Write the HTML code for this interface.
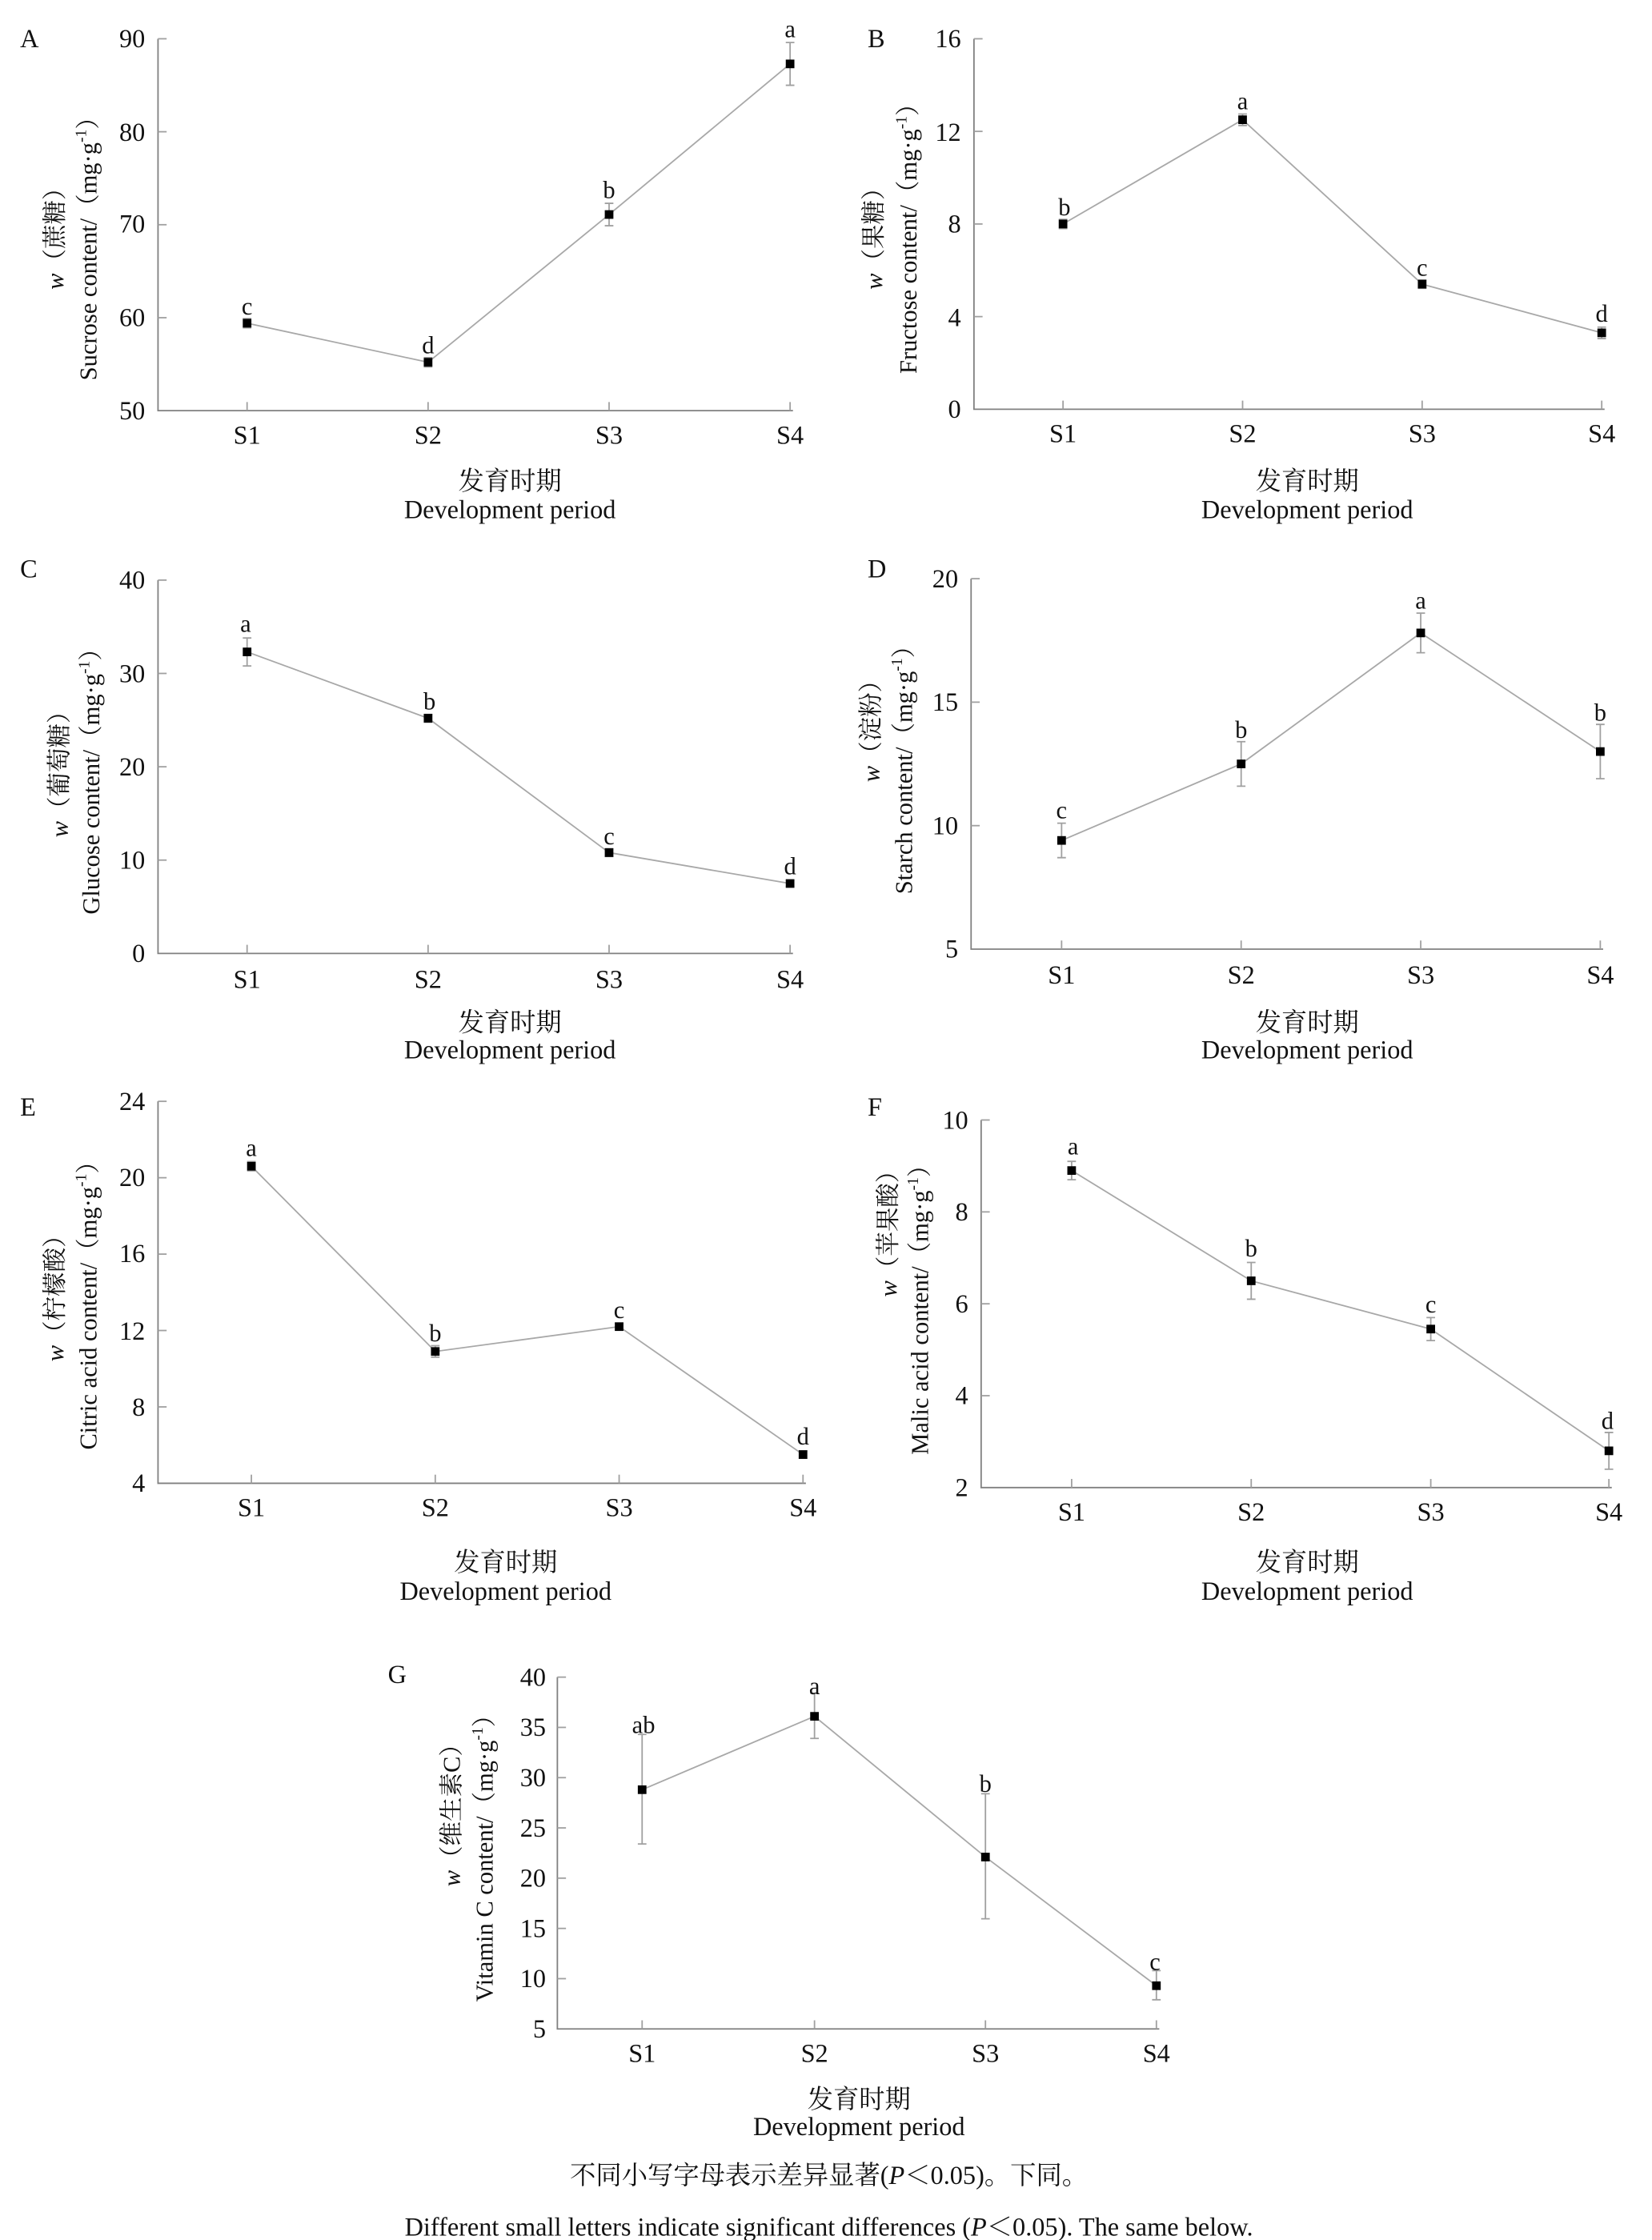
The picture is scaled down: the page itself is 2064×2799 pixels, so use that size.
<!DOCTYPE html>
<html><head><meta charset="utf-8"><style>
html,body{margin:0;padding:0;background:#fff;}
svg{display:block;}
text{font-family:"Liberation Serif","Noto Serif CJK SC","Noto Sans CJK SC",serif;fill:#111;}
.t{font-size:18px;}
.l{font-size:17px;}
.c{font-size:18px;}
.ax{stroke:#808080;stroke-width:1;fill:none;}
.tk{stroke:#a0a0a0;stroke-width:1;}
.ln{stroke:#a8a8a8;stroke-width:1;fill:none;}
.eb{stroke:#a0a0a0;stroke-width:1;fill:none;}
.yl{font-size:17px;}
</style></head><body>
<svg width="2064" height="2799" viewBox="0 0 1150 1560" preserveAspectRatio="none" xmlns="http://www.w3.org/2000/svg">

<!-- ========== A ========== -->
<text x="14" y="33" class="t">A</text>
<g>
<path class="ax" d="M110,27 V286 H552"/>
<g class="tk"><line x1="110" y1="27" x2="116" y2="27"/><line x1="110" y1="91.75" x2="116" y2="91.75"/><line x1="110" y1="156.5" x2="116" y2="156.5"/><line x1="110" y1="221.25" x2="116" y2="221.25"/>
<line x1="172" y1="286" x2="172" y2="280"/><line x1="298" y1="286" x2="298" y2="280"/><line x1="424" y1="286" x2="424" y2="280"/><line x1="550" y1="286" x2="550" y2="280"/></g>
<g class="t" text-anchor="end"><text x="101" y="33">90</text><text x="101" y="98">80</text><text x="101" y="162">70</text><text x="101" y="227">60</text><text x="101" y="292">50</text></g>
<g class="t" text-anchor="middle"><text x="172" y="309">S1</text><text x="298" y="309">S2</text><text x="424" y="309">S3</text><text x="550" y="309">S4</text>
<text x="355" y="341">发育时期</text><text x="355" y="361">Development period</text></g>
<polyline class="ln" points="172,225.1 298,252.3 424,149.4 550,44.5"/>
<g class="eb"><path d="M172,221.9V228.3M169,221.9h6M169,228.3h6"/><path d="M298,249.1V255.5M295,249.1h6M295,255.5h6"/><path d="M424,141.6V157.2M421,141.6h6M421,157.2h6"/><path d="M550,29.6V59.4M547,29.6h6M547,59.4h6"/></g>
<g fill="#000"><rect x="169" y="222.1" width="6" height="6"/><rect x="295" y="249.3" width="6" height="6"/><rect x="421" y="146.4" width="6" height="6"/><rect x="547" y="41.5" width="6" height="6"/></g>
<g class="l" text-anchor="middle"><text x="172" y="219">c</text><text x="298" y="246">d</text><text x="424" y="138">b</text><text x="550" y="26">a</text></g>
<text class="yl" text-anchor="middle" transform="translate(44,162) rotate(-90)"><tspan font-style="italic">w</tspan>（蔗糖）</text>
<text class="yl" text-anchor="middle" transform="translate(67,169) rotate(-90)">Sucrose content/（mg·g<tspan font-size="11" dy="-7">-1</tspan><tspan dy="7">）</tspan></text>
</g>

<!-- ========== B ========== -->
<text x="604" y="33" class="t">B</text>
<g>
<path class="ax" d="M678,27 V285 H1117"/>
<g class="tk"><line x1="678" y1="27" x2="684" y2="27"/><line x1="678" y1="91.5" x2="684" y2="91.5"/><line x1="678" y1="156" x2="684" y2="156"/><line x1="678" y1="220.5" x2="684" y2="220.5"/>
<line x1="740" y1="285" x2="740" y2="279"/><line x1="865" y1="285" x2="865" y2="279"/><line x1="990" y1="285" x2="990" y2="279"/><line x1="1115" y1="285" x2="1115" y2="279"/></g>
<g class="t" text-anchor="end"><text x="669" y="33">16</text><text x="669" y="98">12</text><text x="669" y="162">8</text><text x="669" y="227">4</text><text x="669" y="291">0</text></g>
<g class="t" text-anchor="middle"><text x="740" y="308">S1</text><text x="865" y="308">S2</text><text x="990" y="308">S3</text><text x="1115" y="308">S4</text>
<text x="910" y="341">发育时期</text><text x="910" y="361">Development period</text></g>
<polyline class="ln" points="740,156 865,83.4 990,197.9 1115,231.8"/>
<g class="eb"><path d="M740,152.8V159.2M737,152.8h6M737,159.2h6"/><path d="M865,79.4V87.4M862,79.4h6M862,87.4h6"/><path d="M990,195V200.8M987,195h6M987,200.8h6"/><path d="M1115,227.8V235.8M1112,227.8h6M1112,235.8h6"/></g>
<g fill="#000"><rect x="737" y="153" width="6" height="6"/><rect x="862" y="80.4" width="6" height="6"/><rect x="987" y="194.9" width="6" height="6"/><rect x="1112" y="228.8" width="6" height="6"/></g>
<g class="l" text-anchor="middle"><text x="741" y="150">b</text><text x="865" y="76">a</text><text x="990" y="192">c</text><text x="1115" y="224">d</text></g>
<text class="yl" text-anchor="middle" transform="translate(614,162) rotate(-90)"><tspan font-style="italic">w</tspan>（果糖）</text>
<text class="yl" text-anchor="middle" transform="translate(638,162) rotate(-90)">Fructose content/（mg·g<tspan font-size="11" dy="-7">-1</tspan><tspan dy="7">）</tspan></text>
</g>

<!-- ========== C ========== -->
<text x="14" y="402" class="t">C</text>
<g>
<path class="ax" d="M110,404 V664 H552"/>
<g class="tk"><line x1="110" y1="404" x2="116" y2="404"/><line x1="110" y1="469" x2="116" y2="469"/><line x1="110" y1="534" x2="116" y2="534"/><line x1="110" y1="599" x2="116" y2="599"/>
<line x1="172" y1="664" x2="172" y2="658"/><line x1="298" y1="664" x2="298" y2="658"/><line x1="424" y1="664" x2="424" y2="658"/><line x1="550" y1="664" x2="550" y2="658"/></g>
<g class="t" text-anchor="end"><text x="101" y="410">40</text><text x="101" y="475">30</text><text x="101" y="540">20</text><text x="101" y="605">10</text><text x="101" y="670">0</text></g>
<g class="t" text-anchor="middle"><text x="172" y="688">S1</text><text x="298" y="688">S2</text><text x="424" y="688">S3</text><text x="550" y="688">S4</text>
<text x="355" y="718">发育时期</text><text x="355" y="737">Development period</text></g>
<polyline class="ln" points="172,454 298,500.2 424,593.8 550,615.3"/>
<g class="eb"><path d="M172,444.3V463.8M169,444.3h6M169,463.8h6"/><path d="M298,497.5V503M295,497.5h6M295,503h6"/><path d="M424,591V596.5M421,591h6M421,596.5h6"/><path d="M550,613V617.5M547,613h6M547,617.5h6"/></g>
<g fill="#000"><rect x="169" y="451" width="6" height="6"/><rect x="295" y="497.2" width="6" height="6"/><rect x="421" y="590.8" width="6" height="6"/><rect x="547" y="612.3" width="6" height="6"/></g>
<g class="l" text-anchor="middle"><text x="171" y="440">a</text><text x="299" y="494">b</text><text x="424" y="588">c</text><text x="550" y="609">d</text></g>
<text class="yl" text-anchor="middle" transform="translate(47,535) rotate(-90)"><tspan font-style="italic">w</tspan>（葡萄糖）</text>
<text class="yl" text-anchor="middle" transform="translate(69,540) rotate(-90)">Glucose content/（mg·g<tspan font-size="11" dy="-7">-1</tspan><tspan dy="7">）</tspan></text>
</g>

<!-- ========== D ========== -->
<text x="604" y="402" class="t">D</text>
<g>
<path class="ax" d="M676,403 V661 H1116"/>
<g class="tk"><line x1="676" y1="403" x2="682" y2="403"/><line x1="676" y1="489" x2="682" y2="489"/><line x1="676" y1="575" x2="682" y2="575"/>
<line x1="739" y1="661" x2="739" y2="655"/><line x1="864" y1="661" x2="864" y2="655"/><line x1="989" y1="661" x2="989" y2="655"/><line x1="1114" y1="661" x2="1114" y2="655"/></g>
<g class="t" text-anchor="end"><text x="667" y="409">20</text><text x="667" y="495">15</text><text x="667" y="581">10</text><text x="667" y="667">5</text></g>
<g class="t" text-anchor="middle"><text x="739" y="685">S1</text><text x="864" y="685">S2</text><text x="989" y="685">S3</text><text x="1114" y="685">S4</text>
<text x="910" y="718">发育时期</text><text x="910" y="737">Development period</text></g>
<polyline class="ln" points="739,585.3 864,532 989,440.8 1114,523.4"/>
<g class="eb"><path d="M739,573.3V597.3M736,573.3h6M736,597.3h6"/><path d="M864,516.5V547.5M861,516.5h6M861,547.5h6"/><path d="M989,427V454.6M986,427h6M986,454.6h6"/><path d="M1114,504.5V542.3M1111,504.5h6M1111,542.3h6"/></g>
<g fill="#000"><rect x="736" y="582.3" width="6" height="6"/><rect x="861" y="529" width="6" height="6"/><rect x="986" y="437.8" width="6" height="6"/><rect x="1111" y="520.4" width="6" height="6"/></g>
<g class="l" text-anchor="middle"><text x="739" y="570">c</text><text x="864" y="514">b</text><text x="989" y="424">a</text><text x="1114" y="502">b</text></g>
<text class="yl" text-anchor="middle" transform="translate(612,505) rotate(-90)"><tspan font-style="italic">w</tspan>（淀粉）</text>
<text class="yl" text-anchor="middle" transform="translate(635,532) rotate(-90)">Starch content/（mg·g<tspan font-size="11" dy="-7">-1</tspan><tspan dy="7">）</tspan></text>
</g>

<!-- ========== E ========== -->
<text x="14" y="777" class="t">E</text>
<g>
<path class="ax" d="M110,767 V1033 H561"/>
<g class="tk"><line x1="110" y1="767" x2="116" y2="767"/><line x1="110" y1="820.2" x2="116" y2="820.2"/><line x1="110" y1="873.4" x2="116" y2="873.4"/><line x1="110" y1="926.6" x2="116" y2="926.6"/><line x1="110" y1="979.8" x2="116" y2="979.8"/>
<line x1="175" y1="1033" x2="175" y2="1027"/><line x1="303" y1="1033" x2="303" y2="1027"/><line x1="431" y1="1033" x2="431" y2="1027"/><line x1="559" y1="1033" x2="559" y2="1027"/></g>
<g class="t" text-anchor="end"><text x="101" y="773">24</text><text x="101" y="826">20</text><text x="101" y="879">16</text><text x="101" y="933">12</text><text x="101" y="986">8</text><text x="101" y="1039">4</text></g>
<g class="t" text-anchor="middle"><text x="175" y="1056">S1</text><text x="303" y="1056">S2</text><text x="431" y="1056">S3</text><text x="559" y="1056">S4</text>
<text x="352" y="1094">发育时期</text><text x="352" y="1114">Development period</text></g>
<polyline class="ln" points="175,812.2 303,941.2 431,923.9 559,1013"/>
<g class="eb"><path d="M175,809V815.4M172,809h6M172,815.4h6"/><path d="M303,937.2V945.2M300,937.2h6M300,945.2h6"/><path d="M431,921.5V926.3M428,921.5h6M428,926.3h6"/><path d="M559,1010.5V1015.5M556,1010.5h6M556,1015.5h6"/></g>
<g fill="#000"><rect x="172" y="809.2" width="6" height="6"/><rect x="300" y="938.2" width="6" height="6"/><rect x="428" y="920.9" width="6" height="6"/><rect x="556" y="1010" width="6" height="6"/></g>
<g class="l" text-anchor="middle"><text x="175" y="805">a</text><text x="303" y="934">b</text><text x="431" y="918">c</text><text x="559" y="1006">d</text></g>
<text class="yl" text-anchor="middle" transform="translate(44,900) rotate(-90)"><tspan font-style="italic">w</tspan>（柠檬酸）</text>
<text class="yl" text-anchor="middle" transform="translate(67,905) rotate(-90)">Citric acid content/（mg·g<tspan font-size="11" dy="-7">-1</tspan><tspan dy="7">）</tspan></text>
</g>

<!-- ========== F ========== -->
<text x="604" y="777" class="t">F</text>
<g>
<path class="ax" d="M683,780 V1036 H1122"/>
<g class="tk"><line x1="683" y1="780" x2="689" y2="780"/><line x1="683" y1="844" x2="689" y2="844"/><line x1="683" y1="908" x2="689" y2="908"/><line x1="683" y1="972" x2="689" y2="972"/>
<line x1="746" y1="1036" x2="746" y2="1030"/><line x1="871" y1="1036" x2="871" y2="1030"/><line x1="996" y1="1036" x2="996" y2="1030"/><line x1="1120" y1="1036" x2="1120" y2="1030"/></g>
<g class="t" text-anchor="end"><text x="674" y="786">10</text><text x="674" y="850">8</text><text x="674" y="914">6</text><text x="674" y="978">4</text><text x="674" y="1042">2</text></g>
<g class="t" text-anchor="middle"><text x="746" y="1059">S1</text><text x="871" y="1059">S2</text><text x="996" y="1059">S3</text><text x="1120" y="1059">S4</text>
<text x="910" y="1094">发育时期</text><text x="910" y="1114">Development period</text></g>
<polyline class="ln" points="746,815.2 871,892 996,925.6 1120,1010.4"/>
<g class="eb"><path d="M746,808.8V821.6M743,808.8h6M743,821.6h6"/><path d="M871,879.2V904.8M868,879.2h6M868,904.8h6"/><path d="M996,917.6V933.6M993,917.6h6M993,933.6h6"/><path d="M1120,997.6V1023.2M1117,997.6h6M1117,1023.2h6"/></g>
<g fill="#000"><rect x="743" y="812.2" width="6" height="6"/><rect x="868" y="889" width="6" height="6"/><rect x="993" y="922.6" width="6" height="6"/><rect x="1117" y="1007.4" width="6" height="6"/></g>
<g class="l" text-anchor="middle"><text x="747" y="804">a</text><text x="871" y="875">b</text><text x="996" y="914">c</text><text x="1119" y="995">d</text></g>
<text class="yl" text-anchor="middle" transform="translate(624,855) rotate(-90)"><tspan font-style="italic">w</tspan>（苹果酸）</text>
<text class="yl" text-anchor="middle" transform="translate(646,908) rotate(-90)">Malic acid content/（mg·g<tspan font-size="11" dy="-7">-1</tspan><tspan dy="7">）</tspan></text>
</g>

<!-- ========== G ========== -->
<text x="270" y="1172" class="t">G</text>
<g>
<path class="ax" d="M388,1168 V1413 H807"/>
<g class="tk"><line x1="388" y1="1168" x2="394" y2="1168"/><line x1="388" y1="1203" x2="394" y2="1203"/><line x1="388" y1="1238" x2="394" y2="1238"/><line x1="388" y1="1273" x2="394" y2="1273"/><line x1="388" y1="1308" x2="394" y2="1308"/><line x1="388" y1="1343" x2="394" y2="1343"/><line x1="388" y1="1378" x2="394" y2="1378"/>
<line x1="447" y1="1413" x2="447" y2="1407"/><line x1="567" y1="1413" x2="567" y2="1407"/><line x1="686" y1="1413" x2="686" y2="1407"/><line x1="805" y1="1413" x2="805" y2="1407"/></g>
<g class="t" text-anchor="end"><text x="380" y="1174">40</text><text x="380" y="1209">35</text><text x="380" y="1244">30</text><text x="380" y="1279">25</text><text x="380" y="1314">20</text><text x="380" y="1349">15</text><text x="380" y="1384">10</text><text x="380" y="1419">5</text></g>
<g class="t" text-anchor="middle"><text x="447" y="1436">S1</text><text x="567" y="1436">S2</text><text x="686" y="1436">S3</text><text x="805" y="1436">S4</text>
<text x="598" y="1468">发育时期</text><text x="598" y="1487">Development period</text></g>
<polyline class="ln" points="447,1246.4 567,1195.3 686,1293.3 805,1382.9"/>
<g class="eb"><path d="M447,1207.9V1284.2M444,1207.9h6M444,1284.2h6"/><path d="M567,1179.2V1210.7M564,1179.2h6M564,1210.7h6"/><path d="M686,1249.2V1336.3M683,1249.2h6M683,1336.3h6"/><path d="M805,1372.4V1392.7M802,1372.4h6M802,1392.7h6"/></g>
<g fill="#000"><rect x="444" y="1243.4" width="6" height="6"/><rect x="564" y="1192.3" width="6" height="6"/><rect x="683" y="1290.3" width="6" height="6"/><rect x="802" y="1379.9" width="6" height="6"/></g>
<g class="l" text-anchor="middle"><text x="448" y="1207">ab</text><text x="567" y="1180">a</text><text x="686" y="1248">b</text><text x="804" y="1372">c</text></g>
<text class="yl" text-anchor="middle" transform="translate(320,1260) rotate(-90)"><tspan font-style="italic">w</tspan>（维生素C）</text>
<text class="yl" text-anchor="middle" transform="translate(343,1290) rotate(-90)">Vitamin C content/（mg·g<tspan font-size="11" dy="-7">-1</tspan><tspan dy="7">）</tspan></text>
</g>

<!-- captions -->
<text x="577" y="1521" class="c" text-anchor="middle">不同小写字母表示差异显著(<tspan font-style="italic">P</tspan>＜0.05)。下同。</text>
<text x="577" y="1557" class="c" text-anchor="middle">Different small letters indicate significant differences (<tspan font-style="italic">P</tspan>＜0.05). The same below.</text>
</svg>
</body></html>
